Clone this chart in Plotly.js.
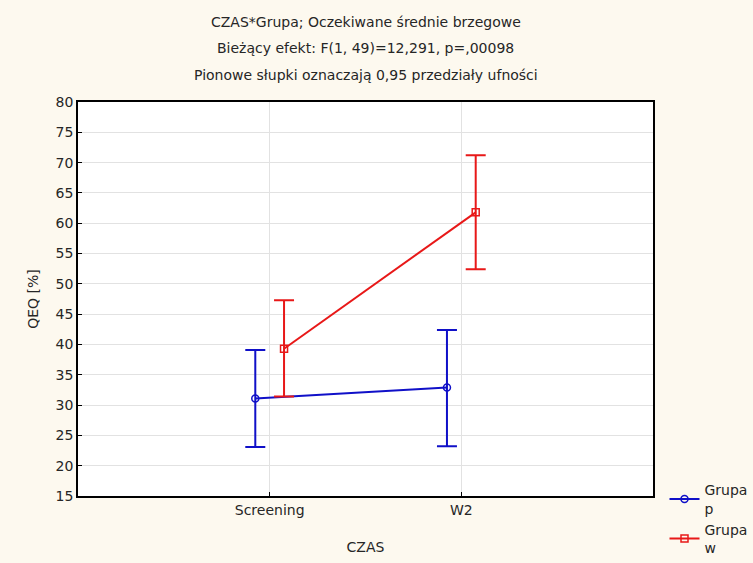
<!DOCTYPE html>
<html><head><meta charset="utf-8">
<script src="https://cdn.plot.ly/plotly-3.0.1.min.js"></script>
<style>html,body{margin:0;padding:0;background:#fdf9ef;}</style>
</head><body><div id="chart" style="width:753px;height:563px;"></div>
<script>
const categories = ["Screening", "W2"];
const groupNames = ["Grupa<br>p", "Grupa<br>w"];
const meansP = [31.1, 32.9];
const upperP = [39.1, 42.4];
const lowerP = [23.1, 23.2];
const meansW = [39.3, 61.8];
const upperW = [47.3, 71.2];
const lowerW = [31.4, 52.4];

const idx = categories.map((c, i) => i);
function mk(name, means, upper, lower, off, color, symbol) {
  return {
    type: 'scatter', mode: 'lines+markers', name: name,
    x: idx.map(i => i + off), y: means,
    line: {color: color, width: 2},
    marker: {symbol: symbol, size: 7, color: color, line: {color: color, width: 1.5}},
    error_y: {type: 'data', symmetric: false,
      array: means.map((m, i) => upper[i] - m),
      arrayminus: means.map((m, i) => m - lower[i]),
      color: color, thickness: 2, width: 10}
  };
}
const data = [
  mk(groupNames[0], meansP, upperP, lowerP, -0.075, '#1010c8', 'circle-open'),
  mk(groupNames[1], meansW, upperW, lowerW, 0.075, '#e81818', 'square-open')
];
const fam = 'DejaVu Sans, Liberation Sans, Arial, sans-serif';
const txt = '#262626';
const layout = {
  width: 753, height: 563,
  paper_bgcolor: '#fdf9ef', plot_bgcolor: '#ffffff',
  margin: {l: 78, r: 100, t: 102, b: 67, autoexpand: false},
  font: {family: fam, size: 14, color: txt},
  showlegend: true,
  legend: {x: 1.02, y: 0.055, xanchor: 'left', yanchor: 'top', bgcolor: 'rgba(0,0,0,0)', font: {family: fam, size: 14, color: txt}, tracegroupgap: 2},
  xaxis: {
    range: [-1, 2], tickmode: 'array', tickvals: idx, ticktext: categories,
    showgrid: true, gridcolor: '#e2e2e2', zeroline: false,
    showline: true, linecolor: '#000', linewidth: 1.5, mirror: true,
    ticks: 'inside', ticklen: 4, tickcolor: '#000',
    tickfont: {family: fam, size: 14, color: txt},
    title: {text: 'CZAS', font: {family: fam, size: 14, color: txt}, standoff: 26}
  },
  yaxis: {
    range: [15, 80], dtick: 5, tick0: 15,
    showgrid: true, gridcolor: '#e2e2e2', zeroline: false,
    showline: true, linecolor: '#000', linewidth: 1.5, mirror: true,
    ticks: 'inside', ticklen: 4, tickcolor: '#000',
    tickfont: {family: fam, size: 14, color: txt},
    title: {text: 'QEQ [%]', font: {family: fam, size: 14, color: txt}, standoff: 14}
  },
  annotations: [
    {text: 'CZAS*Grupa; Oczekiwane średnie brzegowe', xref: 'paper', yref: 'paper', x: 0.5, y: (496-22)/394, showarrow: false, font: {family: fam, size: 14, color: txt}, yanchor: 'middle'},
    {text: 'Bieżący efekt: F(1, 49)=12,291, p=,00098', xref: 'paper', yref: 'paper', x: 0.5, y: (496-48)/394, showarrow: false, font: {family: fam, size: 14, color: txt}, yanchor: 'middle'},
    {text: 'Pionowe słupki oznaczają 0,95 przedziały ufności', xref: 'paper', yref: 'paper', x: 0.5, y: (496-75)/394, showarrow: false, font: {family: fam, size: 14, color: txt}, yanchor: 'middle'}
  ]
};
Plotly.newPlot('chart', data, layout, {displayModeBar: false});
</script></body></html>
